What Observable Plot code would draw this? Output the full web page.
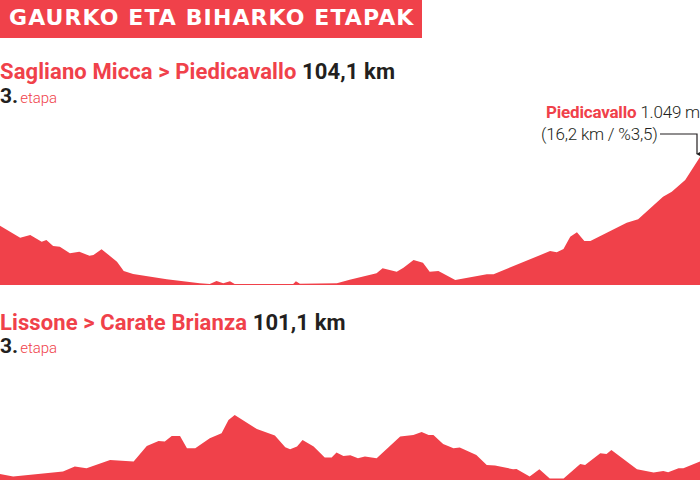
<!DOCTYPE html>
<html>
<head>
<meta charset="utf-8">
<script src="https://cdn.jsdelivr.net/npm/d3@7"></script>
<script src="https://cdn.jsdelivr.net/npm/@observablehq/plot@0.6"></script>
<style>
  html, body { margin: 0; padding: 0; background: #fff; }
  #wrap { position: relative; width: 700px; height: 480px; overflow: hidden; font-family: Roboto, "Noto Sans", sans-serif; }
  .abs { position: absolute; white-space: nowrap; }
  .banner { left: 0; top: 0; width: 422px; height: 38px; background: #f0414a; }
  .banner span { position: absolute; left: 9px; top: 7px; color: #fff; font-family: "DejaVu Sans", sans-serif; font-weight: 700; font-size: 22px; line-height: 1; letter-spacing: 1.1px; }
  .head { font-size: 22px; font-weight: 700; letter-spacing: 0.1px; line-height: 1; }
  .red { color: #f0414a; }
  .dark { color: #231f20; }
  .stage { font-size: 21px; font-weight: 700; color: #231f20; line-height: 1; }
  .stage small { font-size: 15px; font-weight: 300; color: #f0414a; margin-left: 2px; }
  .ann { font-size: 17px; line-height: 1; color: #231f20; letter-spacing: -0.2px; }
</style>
</head>
<body>
<div id="wrap">
  <div class="abs banner"><span>GAURKO ETA BIHARKO ETAPAK</span></div>
  <div class="abs head" style="left:0; top:60.5px;"><span class="red">Sagliano Micca &gt; Piedicavallo</span> <span class="dark">104,1 km</span></div>
  <div class="abs stage" style="left:0; top:86px;">3.<small>etapa</small></div>
  <div class="abs ann" style="right:0; top:104px;"><span class="red" style="font-weight:700">Piedicavallo</span> <span style="font-weight:300">1.049 m</span></div>
  <div class="abs ann" style="left:541px; top:125.5px; font-weight:300;">(16,2 km / %3,5)</div>
  <svg class="abs" style="left:0; top:0;" width="700" height="480">
    <defs><marker id="ah" viewBox="0 0 10 10" refX="5" refY="9" markerWidth="7" markerHeight="7" orient="auto-start-reverse"><path d="M0,0 L10,0 L5,10 Z" fill="#231f20"/></marker></defs>
    <polyline points="660,134 697,134 697,154" fill="none" stroke="#231f20" stroke-width="1.2" marker-end="url(#ah)"/>
  </svg>
  <div class="abs" id="p1" style="left:0; top:150px;"></div>
  <div class="abs head" style="left:0; top:311.5px;"><span class="red">Lissone &gt; Carate Brianza</span> <span class="dark">101,1 km</span></div>
  <div class="abs stage" style="left:0; top:336px;">3.<small>etapa</small></div>
  <div class="abs" id="p2" style="left:0; top:400px;"></div>
</div>
<script>
// Stage 1: Sagliano Micca > Piedicavallo (km, elevation m)
const km1 = [0, 3.0, 4.5, 6.2, 6.9, 7.9, 8.9, 10.4, 11.8, 13.3, 13.9, 15.1, 17.4, 18.4, 19.8, 24.8, 29.7, 31.2, 32.2, 33.2, 34.2, 34.9, 43.6, 44.0, 44.6, 50.1, 52.0, 56.0, 56.9, 59.0, 60.0, 61.5, 62.9, 63.9, 65.2, 67.7, 72.4, 73.4, 81.8, 82.8, 83.8, 84.8, 85.8, 86.9, 87.8, 93.2, 94.9, 98.6, 99.9, 101.9, 104.1];
const elev1 = [561, 476, 495, 448, 460, 417, 412, 365, 377, 348, 353, 394, 306, 239, 218, 180, 152, 147, 168, 152, 166, 147, 147, 166, 149, 152, 178, 223, 259, 234, 263, 318, 298, 234, 239, 176, 216, 216, 381, 372, 396, 483, 514, 452, 452, 582, 607, 767, 803, 886, 1049];

// Stage 2: Lissone > Carate Brianza (km, elevation m)
const km2 = [0, 1.9, 9.1, 10.8, 12.5, 15.9, 19.3, 21.2, 22.9, 23.8, 24.8, 26.0, 27.0, 28.2, 30.3, 32.0, 33.0, 33.9, 37.1, 39.7, 41.2, 41.9, 42.9, 43.7, 45.3, 46.9, 47.9, 48.6, 49.6, 50.6, 51.7, 52.7, 54.4, 57.8, 59.7, 60.9, 61.9, 62.6, 64.0, 65.5, 66.4, 68.8, 70.3, 71.5, 74.1, 74.6, 76.5, 77.9, 79.4, 81.4, 83.8, 84.5, 86.7, 87.6, 88.3, 92.0, 94.4, 95.8, 96.5, 98.0, 98.7, 101.1];
const elev2 = [210, 197, 222, 247, 239, 280, 272, 350, 375, 372, 400, 400, 339, 339, 389, 414, 480, 505, 435, 402, 344, 334, 347, 380, 347, 292, 292, 317, 300, 304, 289, 297, 289, 397, 405, 420, 405, 405, 360, 339, 342, 305, 255, 252, 234, 235, 197, 234, 187, 187, 260, 255, 314, 310, 330, 234, 217, 225, 219, 239, 239, 272];

const red = "#f0414a";
const base1 = 140, top1 = 1049;
const base2 = 180, top2 = 580;

const d1 = km1.map((k, i) => ({km: k, elev: elev1[i]}));
const d2 = km2.map((k, i) => ({km: k, elev: elev2[i]}));

const p1 = Plot.plot({
  width: 700, height: 136,
  marginTop: 7, marginBottom: 1, marginLeft: 0, marginRight: 0,
  x: {domain: [0, 104.1], axis: null},
  y: {domain: [base1, top1], axis: null},
  marks: [
    Plot.areaY(d1, {x: "km", y1: base1, y2: "elev", fill: red})
  ]
});
document.getElementById("p1").appendChild(p1);

const p2 = Plot.plot({
  width: 700, height: 80,
  marginTop: 0, marginBottom: 0, marginLeft: 0, marginRight: 0,
  x: {domain: [0, 101.1], axis: null},
  y: {domain: [base2, top2], axis: null},
  marks: [
    Plot.areaY(d2, {x: "km", y1: base2, y2: "elev", fill: red})
  ]
});
document.getElementById("p2").appendChild(p2);
</script>
</body>
</html>
